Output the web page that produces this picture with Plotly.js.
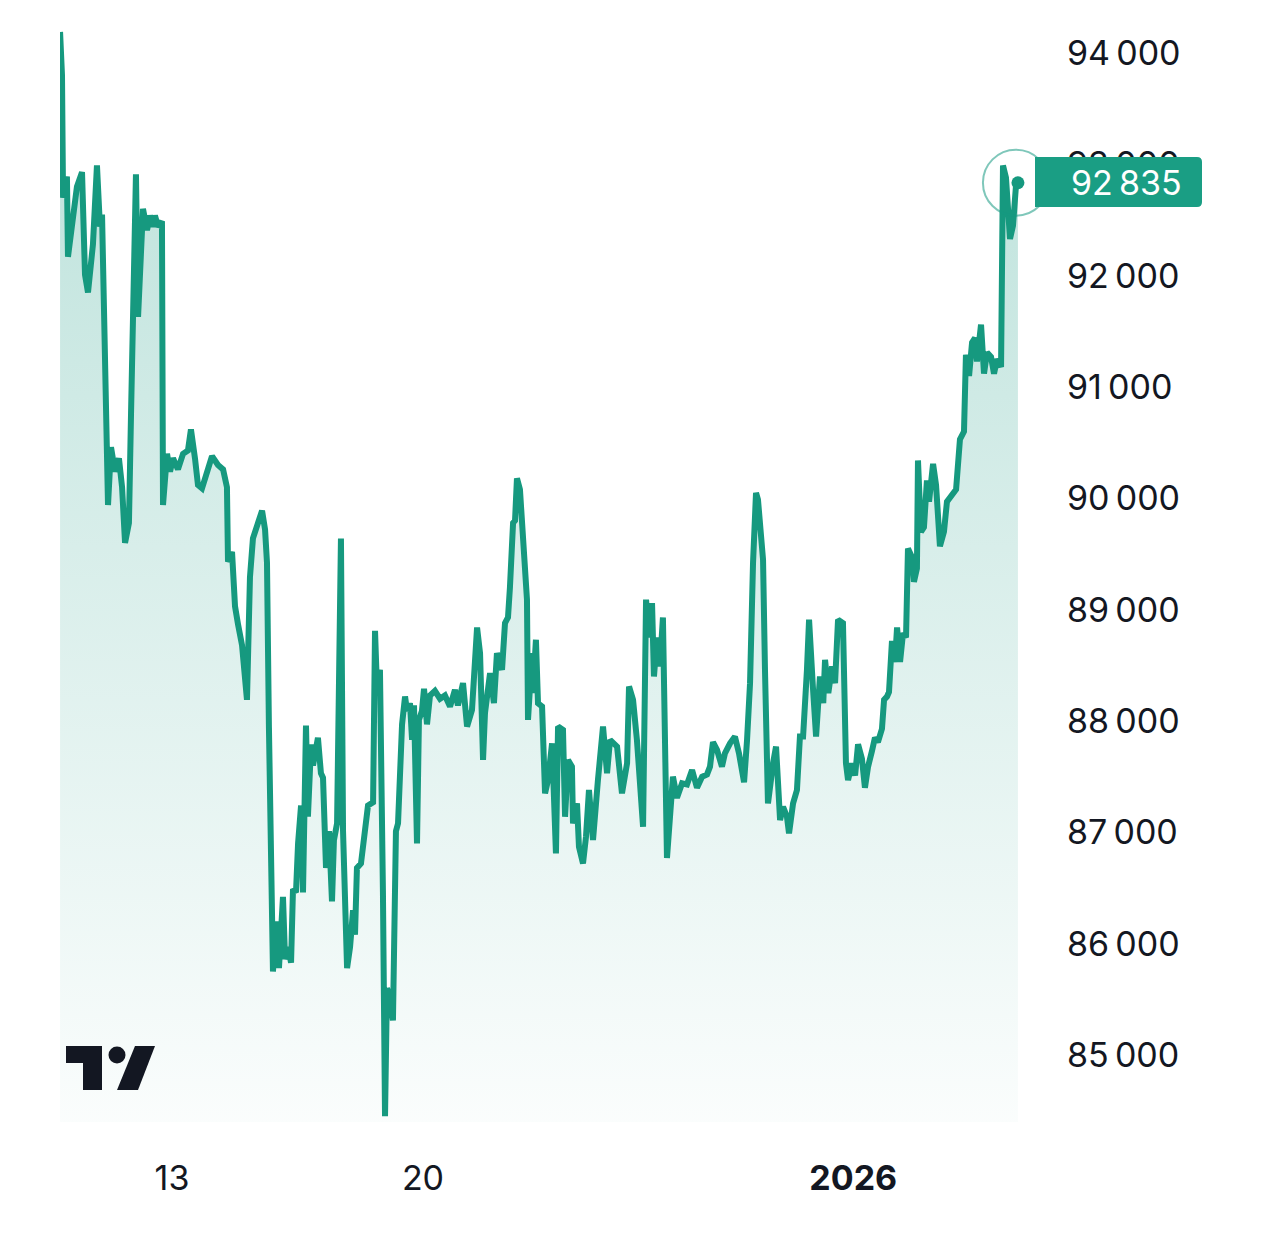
<!DOCTYPE html>
<html>
<head>
<meta charset="utf-8">
<script src="https://cdn.plot.ly/plotly-3.0.1.min.js"></script>
<style>
  html, body { margin: 0; padding: 0; background: #ffffff; }
  #chart { width: 1280px; height: 1240px; }
</style>
</head>
<body>
<div id="chart"></div>
<script>
// ---- Data (BTC price, hours counted from 2025-12-10 00:00) ----
const hours = [
  -2.9, -2.3, -1.6, -0.9, 1.7, 2.4, 5.8, 8.4, 11.8, 13.8, 15.8, 19.1, 21.8, 23.8, 25.2,
  28.5, 29.2, 31.2, 33.9, 36.5, 38.6, 40.6, 43.2, 44.6, 47.9, 49.3, 51.3, 52.6, 55.3, 57.3,
  59.3, 60.6, 62.7, 65.3, 66.0, 68.7, 70.7, 72.7, 76.0, 79.4, 82.7, 84.7, 87.4, 89.4, 92.1,
  95.4, 98.8, 102.8, 106.2, 108.8, 109.5, 112.2, 114.2, 116.2, 118.9, 122.2, 124.2,
  126.2, 128.9, 132.3, 134.3, 135.6, 136.9, 139.6, 141.6, 143.6, 146.3, 147.7, 149.7, 151.7,
  153.0, 155.0, 156.4, 158.4, 159.7, 161.7, 163.0, 165.1, 166.4, 169.7, 171.7, 173.1, 175.1,
  177.1, 179.1, 180.4, 182.5, 185.1, 186.5, 189.2, 191.2, 193.2, 194.5, 195.8, 198.5, 199.9,
  203.2, 206.6, 207.9, 209.2, 211.2, 213.2, 214.6, 215.9, 217.9, 219.9, 221.9, 223.3, 226.0,
  228.0, 229.3, 231.3, 232.7, 234.0, 236.0, 237.3, 239.3, 240.7, 242.7, 244.7, 248.0, 251.4,
  254.7, 258.1, 261.4, 263.4, 266.8, 269.5, 272.8, 276.2, 278.2, 280.2, 281.5, 284.9, 287.5,
  289.5, 292.9, 294.9, 296.9, 298.2, 300.3, 301.6, 302.9, 304.9, 306.9, 309.6, 310.3, 313.0,
  313.6, 315.6, 317.0, 319.7, 321.7, 323.7, 326.4, 329.0, 330.4, 333.7, 335.1, 337.1, 339.7,
  340.4, 343.1, 344.4, 347.1, 349.1, 351.1, 353.8, 357.1, 360.5, 363.2, 365.2, 369.9, 373.2,
  376.6, 377.9, 380.6, 383.2, 387.3, 389.3, 391.3, 393.3, 394.6, 396.6, 398.6, 400.6, 403.3,
  405.3, 407.3, 410.0, 413.4, 416.7, 420.1, 423.4, 426.8, 430.1, 432.1, 434.1, 436.8, 440.1,
  442.1, 445.5, 448.8, 451.5, 454.9, 456.9, 458.9, 460.9, 462.9, 464.2, 467.6, 468.9, 470.9,
  474.3, 476.3, 479.0, 481.0, 483.6, 485.0, 487.7, 490.3, 492.3, 494.4, 497.0, 498.4, 501.0,
  503.1, 505.7, 507.9, 509.1, 511.3, 513.8, 515.8, 517.8, 521.1,
  523.1, 524.5, 527.1, 529.2, 531.2, 533.8, 535.8, 537.9, 540.5, 542.5, 544.5, 547.2, 548.6,
  550.6, 551.9, 553.9, 555.9, 557.3, 559.3, 561.3, 563.3, 564.6, 567.3, 568.6, 570.6, 571.3,
  573.3, 575.3, 577.3, 578.7, 581.4, 583.4, 586.0, 588.7, 590.7, 594.1, 596.8, 599.4, 602.1,
  603.4, 605.5, 607.5, 609.5, 610.8, 613.5, 615.5, 617.5, 620.2, 622.2, 624.2, 626.9, 628.2,
  630.2, 632.9, 634.9, 636.9, 638.2
];
const prices = [
  94190, 93950, 93800, 92700, 92890, 92170, 92590, 92800, 92930, 92010, 91850, 92280, 92990, 92440, 92550,
  90460, 89940, 90460, 90240, 90360, 90100, 89600, 89780, 90760, 92910, 91630, 92470, 92600, 92410, 92540,
  92440, 92540, 92440, 92490, 89940, 90400, 90240, 90360, 90260, 90400, 90430, 90620, 90360, 90120, 90090,
  90220, 90380, 90300, 90260, 90100, 89430, 89520, 89030, 88870, 88680, 88190, 89290,
  89640, 89760, 89890, 89720, 89420, 87940, 85750, 86200, 85780, 86420, 85860, 85970, 85830,
  86490, 86460, 86900, 87240, 86460, 87960, 87140, 87790, 87600, 87850, 87530, 87490, 86680,
  87010, 86380, 86930, 87080, 89640, 87010, 85780, 85970, 86300, 86080, 86680, 86720, 86900,
  87240, 87270, 88810, 88300, 88460, 86460, 84450, 85600, 85520, 85310, 87010, 87080, 87970,
  88220, 88090, 88160, 87830, 88140, 86900, 88010, 88090, 88290, 87970, 88230, 88270, 88200,
  88230, 88130, 88280, 88140, 88340, 87950, 88100, 88840, 88610, 87650, 88070, 88430, 88160,
  88610, 88460, 88880, 88930, 89200, 89780, 89800, 90180, 90080, 89600, 89090, 88010, 88610,
  88250, 88730, 88160, 88130, 87350, 87470, 87800, 86810, 87950, 87920, 87140, 87650, 87590,
  87080, 87260, 86870, 86720, 86960, 87380, 86930, 87470, 87950, 87530, 87830, 87770, 87350,
  87620, 88310, 88190, 87830, 87050, 89090, 88750, 89060, 88400, 88750, 88490, 88930, 86770,
  87200, 87500, 87310, 87440, 87430, 87560, 87400, 87500, 87520, 87590, 87810, 87740, 87590,
  87710, 87800, 87860, 87710, 87450, 87830, 88340, 89420, 90050, 89990, 89450, 88460, 87260,
  87620, 87770, 87110, 87230, 87140, 86990, 87260, 87380, 87860, 87860, 88460, 88910, 88300,
  87860, 88400, 88160, 88550, 88250, 88490, 88340, 88910, 88880,
  87620, 87470, 87620, 87510, 87790, 87660, 87400, 87590, 87730, 87850, 87810, 87930, 88190,
  88220, 88260, 88720, 88530, 88840, 88530, 88790, 88750, 89550, 89470, 89250, 89370, 90340,
  89700, 89740, 90160, 89970, 90310, 90120, 89570, 89700, 89970, 90040, 90080, 90530, 90600,
  91290, 91100, 91400, 91440, 91230, 91560, 91120, 91310, 91270, 91120, 91250, 91180, 92990,
  92880, 92330, 92450, 92810, 92835
];
const lastPriceLabel = '92\u202f835';
const yTickValues = [85000, 86000, 87000, 88000, 89000, 90000, 91000, 92000, 93000, 94000];
const yTickLabels = ['85\u202f000', '86\u202f000', '87\u202f000', '88\u202f000', '89\u202f000',
                     '90\u202f000', '91\u202f000', '92\u202f000', '93\u202f000', '94\u202f000'];
const xTickDates = ['2025-12-13 00:00', '2025-12-20 00:00', '2026-01-01 00:00'];
const xTickLabels = ['13', '20', '<b>2026</b>'];

// ---- helpers ----
const BASE = Date.UTC(2025, 11, 10, 0, 0, 0);
function hToDate(h) {
  const d = new Date(BASE + h * 3600000);
  const p = n => String(n).padStart(2, '0');
  return d.getUTCFullYear() + '-' + p(d.getUTCMonth() + 1) + '-' + p(d.getUTCDate()) + ' ' +
         p(d.getUTCHours()) + ':' + p(d.getUTCMinutes()) + ':' + p(d.getUTCSeconds());
}
const times = hours.map(hToDate);
const lastT = times[times.length - 1];
const lastP = prices[prices.length - 1];

const W = 1280, H = 1240;
const M = { l: 60, r: 240, t: 28, b: 118 };
const PW = W - M.l - M.r, PH = H - M.t - M.b;
const px = x => (x - M.l) / PW;          // pixel -> paper x
const py = y => (H - M.b - y) / PH;      // pixel -> paper y

const LINE = '#16997f';
const INK = '#131722';

const yMin = 84398, yMax = 94225;

// TradingView logo (decoration) in paper coords
function poly(pts) {
  return 'M ' + pts.map(p => px(p[0]) + ',' + py(p[1])).join(' L ') + ' Z';
}
const logoT = poly([[66,1046],[102,1046],[102,1090],[83,1090],[83,1063],[66,1063]]);
const logoS = poly([[135,1046],[155,1046],[138,1090],[117,1090]]);

// price label box with rounded right corners (paper coords)
function labelBox(x0, y0, x1, y1, r) {
  const pts = [
    'M', px(x0), py(y0),
    'L', px(x1 - r), py(y0),
    'Q', px(x1), py(y0), px(x1), py(y0 + r),
    'L', px(x1), py(y1 - r),
    'Q', px(x1), py(y1), px(x1 - r), py(y1),
    'L', px(x0), py(y1), 'Z'
  ];
  return pts.join(' ');
}

const traces = [
  {
    type: 'scatter', mode: 'lines',
    x: times, y: prices,
    line: { color: LINE, width: 6, shape: 'linear' },
    fill: 'tozeroy',
    fillgradient: {
      type: 'vertical',
      start: yMin, stop: yMax,
      colorscale: [[0, 'rgba(22,153,129,0.02)'], [1, 'rgba(22,153,129,0.30)']]
    },
    hoverinfo: 'skip', showlegend: false
  },
  {
    type: 'scatter', mode: 'markers',
    x: [lastT], y: [lastP],
    marker: { color: LINE, size: 13 },
    hoverinfo: 'skip', showlegend: false, cliponaxis: false
  }
];

const layout = {
  width: W, height: H,
  margin: M,
  paper_bgcolor: '#ffffff', plot_bgcolor: '#ffffff',
  font: { family: 'Inter, "Noto Sans", sans-serif', color: INK },
  showlegend: false,
  xaxis: {
    type: 'date',
    range: [hToDate(-2.94), hToDate(652.97)],
    tickvals: xTickDates, ticktext: xTickLabels,
    showgrid: false, zeroline: false, showline: false,
    ticks: '', ticklabelstandoff: 33,
    tickfont: { size: 34, color: INK, family: 'Inter, sans-serif' },
    fixedrange: true
  },
  yaxis: {
    side: 'right',
    range: [yMin, yMax],
    tickvals: yTickValues, ticktext: yTickLabels,
    showgrid: false, zeroline: false, showline: false,
    ticks: '', ticklabelstandoff: 26,
    tickfont: { size: 34, color: INK, family: 'Inter, sans-serif' },
    fixedrange: true
  },
  shapes: [
    // ring around last point
    {
      type: 'circle', xref: 'x', yref: 'y', layer: 'above',
      xsizemode: 'pixel', ysizemode: 'pixel',
      xanchor: lastT, yanchor: lastP,
      x0: -35, x1: 31, y0: -33, y1: 33,
      line: { color: 'rgba(22,153,129,0.55)', width: 2 },
      fillcolor: 'rgba(0,0,0,0)'
    },
    // last price label box
    {
      type: 'path', xref: 'paper', yref: 'paper', layer: 'above',
      path: labelBox(1035, 157, 1202, 207, 5),
      fillcolor: '#1a9e84', line: { width: 0 }
    },
    // logo
    { type: 'path', xref: 'paper', yref: 'paper', layer: 'above',
      path: logoT, fillcolor: INK, line: { width: 0 } },
    { type: 'path', xref: 'paper', yref: 'paper', layer: 'above',
      path: logoS, fillcolor: INK, line: { width: 0 } },
    { type: 'circle', xref: 'paper', yref: 'paper', layer: 'above',
      x0: px(108.5), x1: px(125.5), y0: py(1063.5), y1: py(1046.5),
      fillcolor: INK, line: { width: 0 } }
  ],
  annotations: [
    {
      xref: 'paper', yref: 'y',
      x: px(1184), y: lastP,
      xanchor: 'right', yanchor: 'middle',
      text: lastPriceLabel, showarrow: false,
      font: { size: 34, color: '#ffffff', family: 'Inter, sans-serif' }
    }
  ]
};

Plotly.newPlot('chart', traces, layout, { displayModeBar: false, staticPlot: true });
</script>
</body>
</html>
